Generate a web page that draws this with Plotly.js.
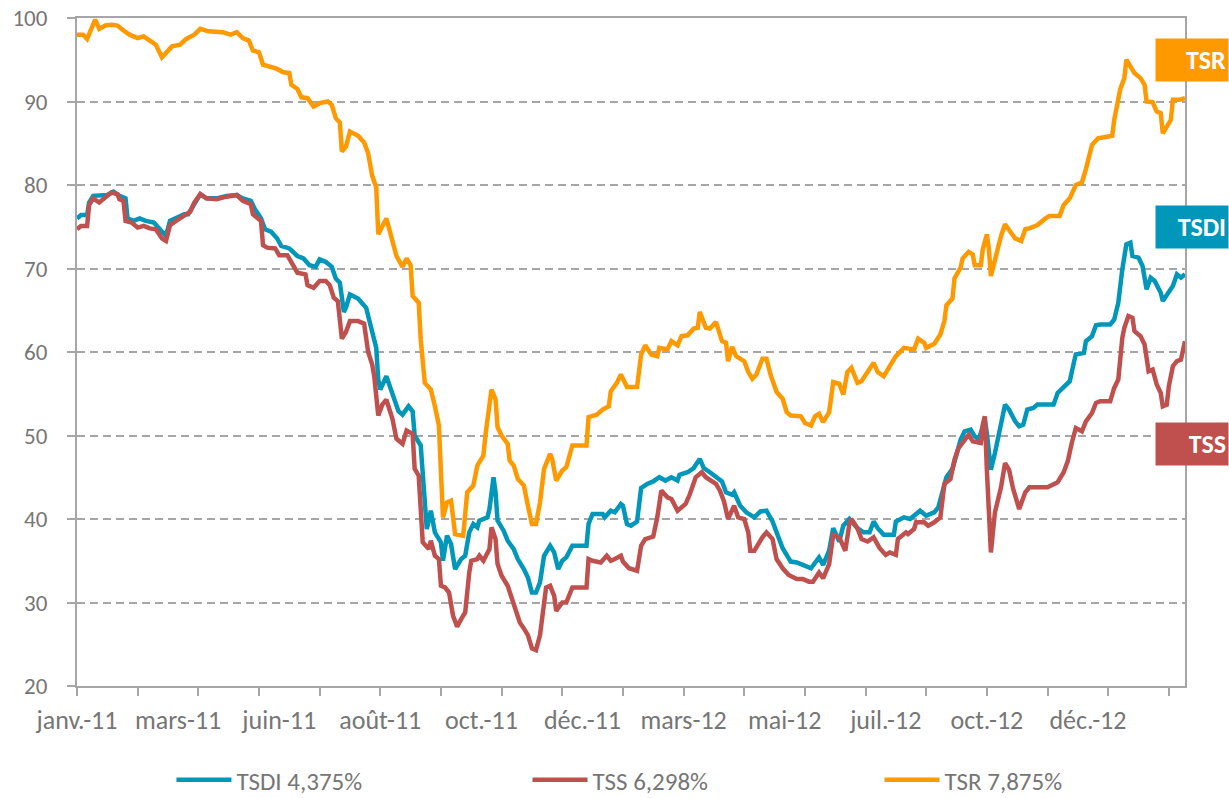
<!DOCTYPE html>
<html>
<head>
<meta charset="utf-8">
<script src="https://cdn.plot.ly/plotly-3.0.1.min.js"></script>
<style>
  html, body { margin: 0; padding: 0; background: #ffffff; }
  #chart { width: 1229px; height: 798px; }
</style>
</head>
<body>
<div id="chart"></div>
<script>
// ---- Data (trading-day index, value) ----
const monthLabels = ['janv.-11','mars-11','juin-11','août-11','oct.-11','déc.-11','mars-12','mai-12','juil.-12','oct.-12','déc.-12'];
const labelDays   = [0,50,100,150,200,250,300,350,400,450,500];
const tickDays    = [0,30,60,90,120,150,180,210,240,270,300,330,360,390,420,450,480,510,540];

const seriesNames = ['TSDI 4,375%', 'TSS 6,298%', 'TSR 7,875%'];

const tsdiDay = [
  0,2,5,6,8,11,15,18,21,24,
  25,28,31,34,38,41,44,46,49,53,
  55,58,61,64,69,74,79,82,86,88,
  91,93,96,99,101,105,109,112,115,118,
  120,123,126,128,130,132,133,135,139,143,
  146,148,149,150,153,156,159,161,164,166,
  167,170,171,173,175,177,180,181,183,185,
  187,190,192,194,196,198,199,203,204,206,
  207,208,211,213,216,218,221,223,225,227,
  229,231,234,236,238,240,242,245,252,253,
  255,260,261,264,266,269,270,272,274,277,
  279,282,285,288,291,294,297,298,302,305,
  308,310,313,316,319,321,324,325,328,331,
  335,338,341,344,346,349,353,356,359,363,
  367,369,372,374,377,379,382,386,389,392,
  394,396,399,404,405,409,412,414,417,420,
  424,426,429,430,433,435,437,439,442,444,
  446,447,449,450,452,454,457,459,461,464,
  466,468,470,473,475,483,485,488,491,493,
  494,498,499,502,504,506,511,513,515,517,
  519,521,522,525,527,529,531,533,536,537,
  540,542,544,546,548
];
const tsdiVal = [
  76.0,76.4,76.4,77.9,78.7,78.7,78.8,79.2,78.7,78.4,
  76.0,75.7,76.0,75.7,75.5,74.7,73.9,75.7,76.0,76.5,
  76.5,77.6,78.9,78.4,78.4,78.7,78.8,78.4,78.1,77.1,
  76.0,74.7,74.4,73.6,72.7,72.4,71.5,71.2,70.4,70.2,
  71.1,70.8,70.2,68.8,68.3,64.8,65.3,66.9,66.4,65.3,
  62.1,60.5,56.7,55.5,57.1,55.1,52.9,52.5,53.5,52.9,
  50.0,48.8,44.8,38.8,41.0,38.4,37.2,35.0,38.0,37.0,
  34.0,35.2,35.6,38.4,39.4,39.0,39.8,40.2,41.2,45.0,
  43.2,39.8,38.6,37.4,36.4,35.2,34.0,33.0,31.2,31.2,
  32.4,35.6,36.8,36.0,34.0,35.0,35.4,36.8,36.8,39.4,
  40.6,40.6,40.2,41.0,40.8,41.8,41.6,39.4,39.2,39.7,
  43.7,44.2,44.5,45.0,44.6,45.0,44.6,45.3,45.6,46.1,
  47.2,46.1,45.6,45.0,44.5,43.2,42.9,43.2,41.6,40.8,
  40.2,40.9,41.0,39.7,38.4,36.5,34.9,34.8,34.5,34.1,
  35.4,34.5,36.2,38.9,37.3,39.2,40.0,38.9,38.4,38.4,
  39.7,38.9,38.1,38.1,39.7,40.2,40.0,40.4,41.0,40.4,
  40.8,41.4,43.8,45.0,46.0,48.0,49.5,50.5,50.7,49.9,
  49.5,50.3,51.9,50.3,45.9,47.9,51.3,53.7,53.1,51.7,
  51.1,51.3,53.1,53.3,53.7,53.7,55.1,55.9,56.5,58.7,
  59.7,59.9,61.3,61.9,63.2,63.3,63.3,63.9,65.9,69.9,
  72.9,73.1,71.5,71.3,70.3,67.5,68.9,68.5,67.1,66.1,
  67.3,67.9,69.3,68.9,69.3
];

const tssDay = [
  0,2,5,6,8,11,15,17,20,21,
  23,24,27,30,33,36,39,42,44,46,
  49,53,56,58,61,64,69,74,79,82,
  86,87,91,92,94,98,100,104,106,109,
  113,114,117,120,123,125,127,129,131,133,
  135,139,142,144,146,147,149,151,153,156,
  158,161,163,166,167,169,171,174,175,177,
  179,180,182,184,186,188,190,192,194,195,
  198,199,201,203,204,205,207,208,210,213,
  215,217,219,221,223,225,227,229,231,232,
  234,236,237,240,242,244,245,252,253,255,
  259,262,264,266,269,270,273,277,279,281,
  285,287,289,292,294,297,301,303,306,309,
  311,316,318,320,322,325,327,330,332,333,
  335,339,341,344,346,349,352,356,359,362,
  364,367,369,372,374,377,380,382,383,386,
  388,391,394,397,400,402,405,406,410,411,
  414,415,419,421,424,427,429,432,434,436,
  438,441,443,447,448,449,450,451,452,454,
  457,459,461,463,465,466,469,471,480,482,
  485,488,490,492,494,497,499,502,504,506,
  511,513,515,517,518,520,522,523,526,528,
  530,532,534,536,537,539,540,542,544,546,
  548
];
const tssVal = [
  74.7,75.1,75.1,77.6,78.4,77.9,78.7,79.1,78.9,78.3,
  78.1,75.7,75.5,74.9,75.1,74.8,74.7,73.6,73.3,75.2,
  75.7,76.3,76.8,77.9,78.9,78.4,78.3,78.6,78.8,78.1,
  77.7,76.5,75.7,72.8,72.5,72.4,71.6,71.6,70.7,69.5,
  69.3,68.0,67.7,68.5,68.5,68.0,66.5,66.1,61.6,62.4,
  63.7,63.7,63.4,60.0,58.5,57.1,52.4,53.7,54.3,52.0,
  49.6,49.0,50.6,50.2,46.0,45.2,37.2,36.4,37.4,35.6,
  35.2,32.0,31.8,31.2,28.4,27.1,28.0,28.8,33.6,35.0,
  35.2,35.6,35.0,35.8,36.4,39.0,37.6,34.6,33.2,32.0,
  30.6,29.2,27.6,26.9,26.1,24.5,24.3,26.1,30.0,31.8,
  32.0,30.8,29.0,30.0,30.0,31.2,31.8,31.8,35.2,35.0,
  34.8,35.6,35.0,35.2,35.6,34.9,34.1,33.8,36.8,37.6,
  37.9,40.2,43.4,42.6,42.4,41.0,41.8,42.9,45.0,45.6,
  45.0,44.2,43.4,42.1,40.0,41.6,40.2,40.0,38.4,36.2,
  36.2,37.8,38.4,37.6,35.2,34.1,33.3,32.8,32.8,32.5,
  32.5,33.6,32.9,34.6,38.1,37.8,36.2,39.4,40.0,38.9,
  37.6,37.3,37.8,36.5,35.7,36.0,35.7,37.6,38.4,38.2,
  38.8,39.6,39.6,39.2,39.6,40.2,44.2,44.8,47.1,48.5,
  49.1,50.1,49.3,49.1,51.3,52.3,45.9,40.0,36.0,40.8,
  43.8,46.7,45.9,43.6,42.0,41.2,43.2,43.8,43.8,44.0,
  44.4,45.6,46.9,49.1,50.9,50.5,51.7,52.7,53.9,54.1,
  54.1,55.7,56.7,61.7,62.9,64.3,64.1,62.5,61.9,60.9,
  57.7,57.9,56.1,55.1,53.5,53.7,55.9,58.3,58.9,59.1,
  61.3
];

const tsrDay = [
  0,3,5,7,9,11,14,17,20,23,
  26,30,33,36,39,42,44,47,51,54,
  58,61,65,69,72,76,79,82,85,87,
  90,92,95,99,102,105,106,109,111,114,
  117,120,124,126,128,130,131,133,135,139,
  142,144,146,148,149,151,153,156,158,161,
  163,165,166,169,170,172,175,177,179,180,
  181,183,185,187,191,193,196,198,201,202,
  203,205,207,208,210,213,214,216,218,221,
  223,225,227,229,231,234,235,237,240,242,
  245,252,253,257,260,263,264,267,269,272,
  277,279,281,284,287,288,292,294,297,299,
  302,305,307,308,311,313,316,319,321,322,
  324,326,330,332,334,336,339,341,343,346,
  349,351,353,358,360,363,365,367,369,372,
  374,377,379,381,383,386,388,391,394,396,
  399,402,405,409,414,416,419,420,424,427,
  429,430,433,434,437,438,441,443,444,447,
  448,450,451,452,454,457,459,461,464,467,
  469,471,475,479,481,486,488,491,494,497,
  499,502,505,512,513,516,518,519,521,523,
  526,528,529,532,534,536,537,539,541,542,
  545,548
];
const tsrVal = [
  98.0,98.0,97.5,98.7,99.8,98.7,99.1,99.2,99.1,98.5,
  98.0,97.6,97.8,97.3,96.8,95.3,95.8,96.6,96.8,97.5,
  98.0,98.7,98.4,98.3,98.3,98.0,98.3,97.6,97.3,96.1,
  95.9,94.4,94.2,93.9,93.5,93.4,92.0,91.5,90.5,90.4,
  89.4,89.8,90.0,89.6,88.0,87.5,84.0,84.6,86.4,85.9,
  85.1,83.8,81.1,79.7,74.1,75.2,76.0,73.3,71.5,70.2,
  71.2,70.4,66.7,65.9,61.5,56.3,55.5,53.5,51.2,45.6,
  40.2,42.0,42.2,38.2,38.0,43.2,44.0,46.4,47.6,50.0,
  52.0,55.5,54.3,51.0,50.0,49.0,47.0,46.4,44.8,44.0,
  41.6,39.4,39.4,42.0,46.0,47.8,47.2,44.6,45.8,46.2,
  48.8,48.8,52.2,52.5,53.1,53.5,55.3,56.3,57.3,55.8,
  55.8,59.7,60.8,59.7,59.5,60.5,60.3,61.3,60.8,61.9,
  62.0,62.8,62.9,64.8,62.9,62.8,63.6,61.3,61.1,58.9,
  60.6,59.5,58.9,57.6,56.8,57.3,59.2,59.2,57.3,55.2,
  54.4,52.8,52.4,52.3,51.5,51.2,52.3,52.6,51.6,52.8,
  56.4,56.2,54.9,57.6,58.1,56.3,56.5,57.6,58.7,57.6,
  57.1,58.3,59.5,60.5,60.3,61.6,61.1,60.5,61.0,62.1,
  63.7,65.6,66.4,68.8,70.1,71.2,72.0,71.7,70.4,70.4,
  72.3,74.1,72.3,69.1,71.2,73.9,75.3,74.7,73.6,73.3,
  74.7,74.8,75.2,76.0,76.3,76.3,77.6,78.4,80.0,80.3,
  81.9,84.8,85.6,85.9,87.8,91.5,92.8,95.0,94.2,93.4,
  92.8,92.0,90.0,89.9,88.8,88.6,86.2,87.0,87.8,90.2,
  90.2,90.4
];

// ---- Styles ----
const COL_TSDI = '#0097BA';
const COL_TSS  = '#C0504D';
const COL_TSR  = '#FF9900';
const GRID = '#A6A6A6';
const TXT  = '#767676';
const FONT = 'Carlito, Calibri, Lato, sans-serif';

const traces = [
  { x: tsdiDay, y: tsdiVal, name: seriesNames[0], type: 'scatter', mode: 'lines',
    legend: 'legend', line: { color: COL_TSDI, width: 4.5 }, hoverinfo: 'y' },
  { x: tssDay, y: tssVal, name: seriesNames[1], type: 'scatter', mode: 'lines',
    legend: 'legend2', line: { color: COL_TSS, width: 4.5 }, hoverinfo: 'y' },
  { x: tsrDay, y: tsrVal, name: seriesNames[2], type: 'scatter', mode: 'lines',
    legend: 'legend3', xaxis: 'x2', line: { color: COL_TSR, width: 4.5 }, hoverinfo: 'y' }
];

const boxLabel = (text, y, col) => ({
  text: '<b>' + text + '</b>', xref: 'paper', yref: 'y', x: 1.0397, y: y,
  xanchor: 'right', yanchor: 'middle', showarrow: false,
  width: 68, height: 38, align: 'right', bgcolor: col, borderpad: 2,
  font: { family: FONT, size: 26, color: '#ffffff' }
});

const legendAt = (x) => ({
  orientation: 'h', xref: 'container', yref: 'container',
  x: x, xanchor: 'left', y: 0.0225, yanchor: 'middle',
  itemwidth: 55, bgcolor: 'rgba(0,0,0,0)',
  font: { family: FONT, size: 25, color: TXT }
});

const layout = {
  width: 1229, height: 798,
  margin: { l: 77, r: 44, t: 18, b: 112, autoexpand: false },
  paper_bgcolor: '#ffffff', plot_bgcolor: '#ffffff',
  font: { family: FONT, color: TXT, size: 23 },
  showlegend: true,
  legend: legendAt(0.1395),
  legend2: legendAt(0.4292),
  legend3: legendAt(0.7156),
  xaxis: {
    range: [0, 548], tickvals: tickDays, showticklabels: false,
    ticks: 'outside', ticklen: 8, tickwidth: 1.5, tickcolor: GRID,
    showline: true, linecolor: GRID, linewidth: 2, mirror: true,
    showgrid: false, zeroline: false, fixedrange: true
  },
  xaxis2: {
    overlaying: 'x', side: 'bottom', anchor: 'y',
    range: [0, 548], tickvals: labelDays, ticktext: monthLabels,
    ticks: 'outside', ticklen: 8, tickcolor: 'rgba(0,0,0,0)',
    ticklabelstandoff: 3,
    showline: false, showgrid: false, zeroline: false,
    tickfont: { family: FONT, size: 26, color: TXT }, fixedrange: true
  },
  yaxis: {
    range: [20, 100], dtick: 10, tick0: 20,
    ticks: 'outside', ticklen: 8, tickwidth: 1.5, tickcolor: GRID,
    ticklabelstandoff: 15,
    showline: true, linecolor: GRID, linewidth: 2, mirror: true,
    showgrid: true, gridcolor: GRID, gridwidth: 1.5, griddash: '8px,5px',
    zeroline: false, tickfont: { family: FONT, size: 23, color: TXT }, fixedrange: true
  },
  annotations: [
    boxLabel('TSR', 95, COL_TSR),
    boxLabel('TSDI', 75, COL_TSDI),
    boxLabel('TSS', 49, COL_TSS)
  ]
};

Plotly.newPlot('chart', traces, layout, { displayModeBar: false });
</script>
</body>
</html>
